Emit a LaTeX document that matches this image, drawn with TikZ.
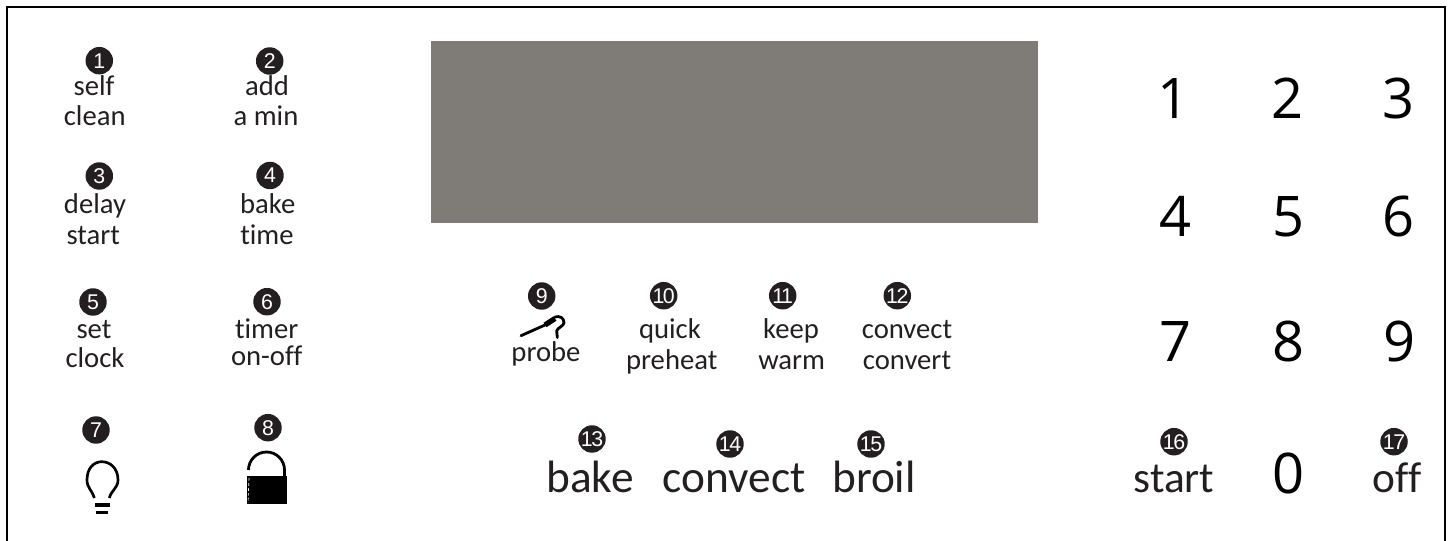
\documentclass[tikz,border=0pt]{standalone}
\usepackage{fontspec}
\setmainfont{Carlito}[Ligatures=NoCommon]
\newfontfamily\badgefont{Liberation Sans}
\newfontfamily\digitfont{Open Sans}
\definecolor{ink}{HTML}{231F20}
\definecolor{panel}{HTML}{7F7B77}
\tikzset{
  x=0.75pt,y=-0.75pt,
  badge/.style={circle,fill=ink,text=white,inner sep=0pt,minimum size=20.6pt,font=\badgefont\fontsize{16}{16}\selectfont},
  badgetwo/.style={badge,font=\badgefont\fontsize{16}{16}\selectfont\addfontfeature{LetterSpace=-7}},
  smalllabel/.style={anchor=base,inner sep=0pt,text=ink,font=\fontsize{21.5}{21.5}\selectfont},
  biglabel/.style={anchor=base,inner sep=0pt,text=ink,font=\fontsize{34}{34}\selectfont},
  digit/.style={anchor=base,inner sep=0pt,text=black,font=\digitfont\fontsize{42}{42}\selectfont},
  frameline/.style={draw=black,line width=1.8pt},
  glyphline/.style={draw=black,line width=2.1pt,line cap=round},
}
\begin{document}
\begin{tikzpicture}
\useasboundingbox (0,0) rectangle (1448,541);
\draw[frameline] (7,545) -- (7,7) -- (1445,7) -- (1445,545);
\fill[panel] (431,41) rectangle (1038,223);

% badges
\node[badge] (b1) at (99.3,60.7) {1};
\node[badge] (b2) at (269.7,61) {2};
\node[badge] (b3) at (99.3,176) {3};
\node[badge] (b4) at (270,175.5) {4};
\node[badge] (b5) at (93,302) {5};
\node[badge] (b6) at (267,301.7) {6};
\node[badge] (b7) at (96,430) {7};
\node[badge] (b8) at (268,427.7) {8};
\node[badge] (b9) at (541.7,296) {9};
\node[badgetwo] (b10) at (663.7,295.7) {10};
\node[badgetwo] (b11) at (782.7,295.7) {11};
\node[badgetwo] (b12) at (897.3,295.7) {12};
\node[badgetwo] (b13) at (592,439) {13};
\node[badgetwo] (b14) at (730,444) {14};
\node[badgetwo] (b15) at (871,444) {15};
\node[badgetwo] (b16) at (1174,441.7) {16};
\node[badgetwo] (b17) at (1394,441.7) {17};

% small labels
\node[smalllabel] (self) at (94,96) {self};
\node[smalllabel] (clean) at (94.7,126) {clean};
\node[smalllabel] (add) at (267,96) {add};
\node[smalllabel] (amin) at (266,126) {a min};
\node[smalllabel] (delay) at (95,213.7) {delay};
\node[smalllabel] (start) at (93.3,245) {start};
\node[smalllabel] (bake) at (267.7,213.7) {bake};
\node[smalllabel] (time) at (267,245) {time};
\node[smalllabel] (set) at (94,339) {set};
\node[smalllabel] (clock) at (95,368) {clock};
\node[smalllabel] (timer) at (266.7,339) {timer};
\node[smalllabel] (onoff) at (266.7,365) {on-off};
\node[smalllabel] (probe) at (546,361.7) {probe};
\node[smalllabel] (quick) at (670,339) {quick};
\node[smalllabel] (preheat) at (671.7,369) {preheat};
\node[smalllabel] (keep) at (791,339) {keep};
\node[smalllabel] (warm) at (791.7,369) {warm};
\node[smalllabel] (convect) at (907,339) {convect};
\node[smalllabel] (convert) at (907,369) {convert};

% big labels
\node[biglabel] (bbake) at (590,492.7) {bake};
\node[biglabel] (bconvect) at (734,492.7) {convect};
\node[biglabel] (bbroil) at (874,492.7) {broil};
\node[biglabel,font=\fontsize{32.5}{32.5}\selectfont] (bstart) at (1174,492.3) {start};
\node[biglabel,font=\fontsize{32.5}{32.5}\selectfont] (boff) at (1397,492.3) {off};

% keypad
\node[digit] (k1) at (1173,118.7) {1};
\node[digit] (k2) at (1287.7,118.7) {2};
\node[digit] (k3) at (1398,118.7) {3};
\node[digit] (k4) at (1175,236.7) {4};
\node[digit] (k5) at (1288,236.7) {5};
\node[digit] (k6) at (1398,236.7) {6};
\node[digit] (k7) at (1175.7,361) {7};
\node[digit] (k8) at (1288,361) {8};
\node[digit] (k9) at (1399,361) {9};
\node[digit] (k0) at (1288,493) {0};

% bulb
\draw[glyphline,line width=2pt,line cap=butt] (94.3,498) .. controls (92,490) and (87,488) .. (87,480)
  .. controls (87,468) and (94,461.7) .. (101.7,461.7)
  .. controls (110,461.7) and (118,468) .. (118,480)
  .. controls (118,488) and (111.5,490) .. (109.3,498);
\fill[black] (95,503) rectangle (110,506.8);
\fill[black] (96,511) rectangle (108.3,513.6);

% lock
\fill[black] (246.7,476) rectangle (286.7,504);
\draw[glyphline,line cap=butt] (248.5,470) arc[start angle=180,end angle=360,radius=18] -- (284.5,476);
\draw[white,line width=0.5pt,dash pattern=on 2.2pt off 1.5pt] (249,478) -- (248,503);

% probe
\draw[glyphline] (521,335.7) -- (545,325);
\draw[draw=black,line width=4pt] (545,325) -- (555,318.5);
\draw[glyphline] (555,317) .. controls (560,315.5) and (564,318) .. (564,322.7)
  .. controls (564,326) and (557,328) .. (556.7,331) -- (557.3,337.5);
\end{tikzpicture}
\end{document}
